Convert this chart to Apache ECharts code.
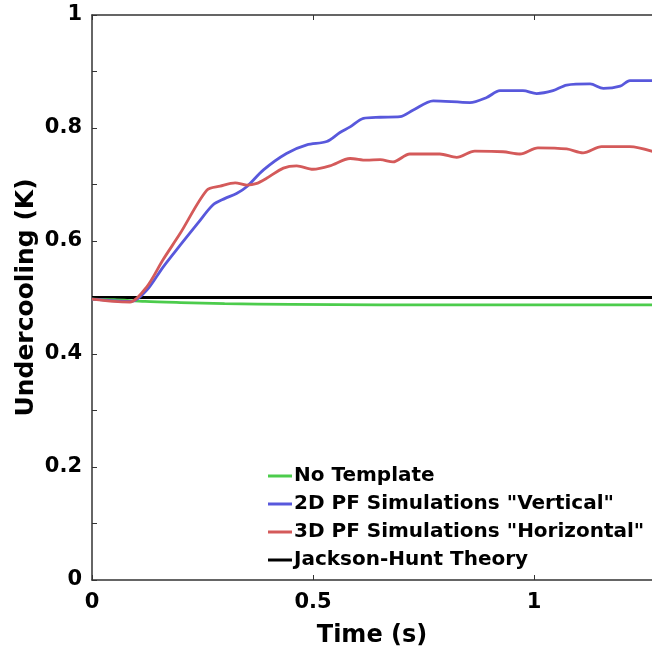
<!DOCTYPE html>
<html>
<head>
<meta charset="utf-8">
<script src="https://cdn.jsdelivr.net/npm/echarts@6/dist/echarts.min.js"></script>
<style>
  html, body { margin: 0; padding: 0; background: #fff; }
  #chart { width: 652px; height: 654px; }
</style>
</head>
<body>
<div id="chart"></div>
<script>
// time (s), undercooling (K)
const noTemplate = [
  [0, 0.497], [0.05, 0.496], [0.12, 0.493], [0.2, 0.491], [0.3, 0.489],
  [0.45, 0.488], [0.65, 0.487], [0.9, 0.487], [1.1, 0.487], [1.27, 0.487]
];
const vertical2D = [
  [0, 0.497], [0.05, 0.494], [0.09, 0.493], [0.124, 0.513], [0.16, 0.553],
  [0.2, 0.593], [0.24, 0.632], [0.274, 0.664], [0.3, 0.675], [0.327, 0.684],
  [0.35, 0.696], [0.388, 0.726], [0.44, 0.755], [0.486, 0.77], [0.531, 0.776],
  [0.561, 0.792], [0.584, 0.802], [0.614, 0.817], [0.652, 0.819], [0.697, 0.82],
  [0.727, 0.832], [0.772, 0.848], [0.855, 0.845], [0.893, 0.854], [0.923, 0.866],
  [0.975, 0.866], [1.006, 0.861], [1.043, 0.866], [1.074, 0.876], [1.127, 0.878],
  [1.157, 0.87], [1.195, 0.874], [1.217, 0.884], [1.27, 0.884]
];
const horizontal3D = [
  [0, 0.497], [0.05, 0.493], [0.086, 0.492], [0.124, 0.519], [0.16, 0.566],
  [0.2, 0.614], [0.26, 0.69], [0.29, 0.697], [0.324, 0.703], [0.35, 0.699],
  [0.373, 0.702], [0.395, 0.711], [0.433, 0.729], [0.463, 0.733], [0.5, 0.727],
  [0.538, 0.733], [0.584, 0.746], [0.621, 0.743], [0.652, 0.744], [0.681, 0.74],
  [0.719, 0.754], [0.787, 0.754], [0.825, 0.748], [0.866, 0.759], [0.93, 0.758],
  [0.968, 0.754], [1.009, 0.765], [1.074, 0.763], [1.111, 0.756], [1.153, 0.767],
  [1.217, 0.767], [1.27, 0.758]
];
const jacksonHunt = [[0, 0.5], [1.27, 0.5]];

const seriesNames = [
  "No Template",
  '2D PF Simulations "Vertical"',
  '3D PF Simulations "Horizontal"',
  "Jackson-Hunt Theory"
];
const seriesColors = ["#4ccc4c", "#5858dc", "#d45a5a", "#000000"];

const myChart = echarts.init(document.getElementById("chart"));

const fontFamily = "DejaVu Sans, sans-serif";
const axisColor = "#333";

function makeLine(i, data) {
  return {
    name: seriesNames[i],
    type: "line",
    data: data,
    smooth: 0.3,
    showSymbol: false,
    lineStyle: { color: seriesColors[i], width: i === 3 ? 3 : 2.8 },
    itemStyle: { color: seriesColors[i] },
    z: i === 3 ? 1 : 2,
  };
}

myChart.setOption({
  animation: false,
  grid: {
    left: 92,
    right: 0,
    top: 15,
    bottom: 74,
  },
  legend: {
    orient: "vertical",
    left: 263,
    top: 460,
    icon: "rect",
    itemWidth: 24,
    itemHeight: 3,
    itemGap: 6,
    textStyle: {
      fontFamily: fontFamily,
      fontWeight: "bold",
      fontSize: 20,
      lineHeight: 22,
      color: "#000",
      padding: [0, 0, 0, -3],
    },
    data: seriesNames,
  },
  xAxis: [
    {
      type: "value",
      min: 0,
      max: 1.267,
      interval: 0.5,
      name: "Time (s)",
      nameLocation: "middle",
      nameGap: 44,
      nameMoveOverlap: false,
      nameTextStyle: { fontFamily: fontFamily, fontWeight: "bold", fontSize: 24, color: "#000" },
      axisLine: { show: true, onZero: false, lineStyle: { color: axisColor, width: 1.5 } },
      axisTick: { show: true, inside: true, length: 5, lineStyle: { color: axisColor } },
      axisLabel: {
        fontFamily: fontFamily, fontWeight: "bold", fontSize: 21, color: "#000", margin: 12,
        showMaxLabel: false,
        formatter: (v) => (v > 1.2 ? "" : String(v)),
      },
      splitLine: { show: false },
    },
    {
      type: "value",
      position: "top",
      min: 0,
      max: 1.267,
      interval: 0.5,
      axisLine: { show: true, onZero: false, lineStyle: { color: axisColor, width: 1.5 } },
      axisTick: { show: true, inside: true, length: 5, lineStyle: { color: axisColor } },
      axisLabel: { show: false },
      splitLine: { show: false },
    },
  ],
  yAxis: {
    type: "value",
    min: 0,
    max: 1,
    interval: 0.1,
    name: "Undercooling (K)",
    nameLocation: "middle",
    nameGap: 53,
    nameMoveOverlap: false,
    nameTextStyle: { fontFamily: fontFamily, fontWeight: "bold", fontSize: 25, color: "#000" },
    axisLine: { show: true, onZero: false, lineStyle: { color: axisColor, width: 1.5 } },
    axisTick: { show: true, inside: true, length: 5, lineStyle: { color: axisColor } },
    axisLabel: {
      fontFamily: fontFamily, fontWeight: "bold", fontSize: 21, color: "#000", margin: 10,
      formatter: (v) => {
        const k = Math.round(v * 10);
        return k % 2 === 0 ? String(k / 10) : "";
      },
    },
    splitLine: { show: false },
  },
  series: [
    makeLine(0, noTemplate),
    makeLine(1, vertical2D),
    makeLine(2, horizontal3D),
    makeLine(3, jacksonHunt),
  ],
});
</script>
</body>
</html>
